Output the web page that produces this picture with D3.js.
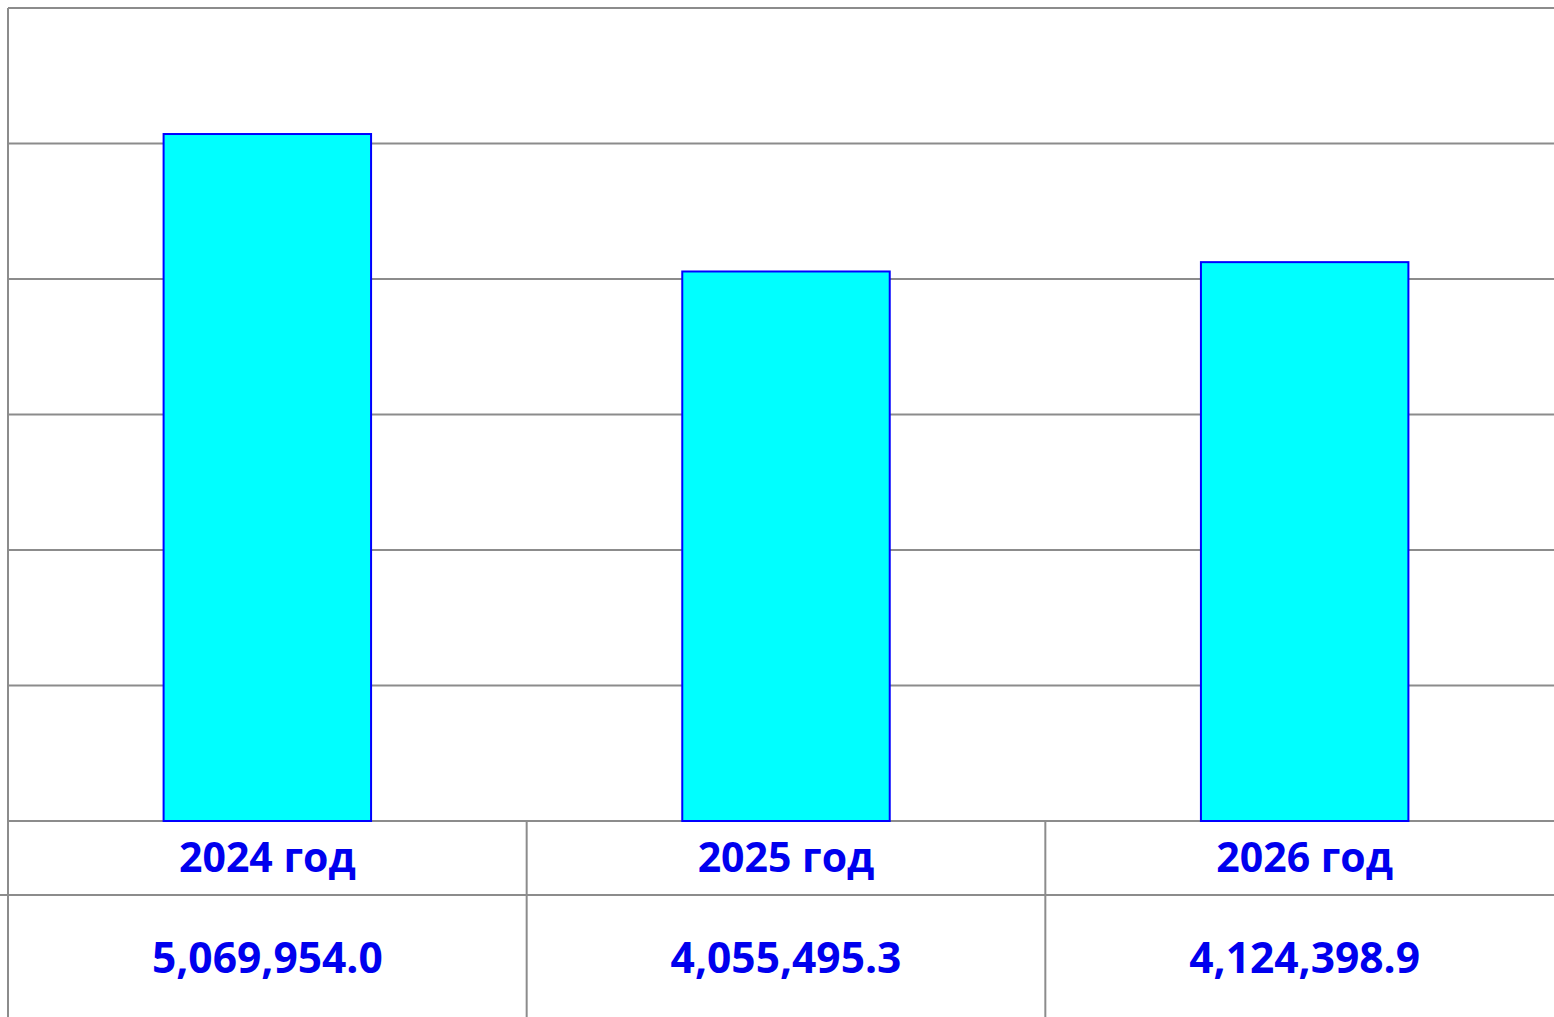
<!DOCTYPE html>
<html><head><meta charset="utf-8">
<script src="https://cdn.jsdelivr.net/npm/d3@7"></script>
<style>html,body{margin:0;padding:0;background:#fff;overflow:hidden}</style>
</head><body>
<svg id="c" width="1554" height="1017"></svg>
<script>
const categories = ["2024 год", "2025 год", "2026 год"];
const values = [5069954.0, 4055495.3, 4124398.9];
const valueLabels = ["5,069,954.0", "4,055,495.3", "4,124,398.9"];
const yTicks = [0, 1000000, 2000000, 3000000, 4000000, 5000000, 6000000];

(function () {
const svg = d3.select("#c");
const mLeft = 8, mRight = 1564, mTop = 8, mBottom = 821;
const row1 = 895, row2 = 1030;
const grid = "#8c8c8c";

const x = d3.scaleBand().domain(categories).range([mLeft, mRight]).paddingInner(0).paddingOuter(0);
const y = d3.scaleLinear().domain([0, 6000000]).range([mBottom, mTop]);

// gridlines
svg.append("g").selectAll("line").data(yTicks).join("line")
  .attr("x1", mLeft).attr("x2", mRight)
  .attr("y1", d => y(d)).attr("y2", d => y(d))
  .attr("stroke", grid).attr("stroke-width", 2);

// left axis line
svg.append("line").attr("x1", mLeft).attr("x2", mLeft).attr("y1", mTop).attr("y2", row2)
  .attr("stroke", grid).attr("stroke-width", 2);

// bars
const bw = x.bandwidth() * 0.4;
svg.append("g").selectAll("rect").data(values).join("rect")
  .attr("x", (d, i) => x(categories[i]) + (x.bandwidth() - bw) / 2)
  .attr("y", d => y(d))
  .attr("width", bw)
  .attr("height", d => mBottom - y(d))
  .attr("fill", "#00FFFF").attr("stroke", "#0000FF").attr("stroke-width", 2);

// table lines
svg.append("line").attr("x1", 0).attr("x2", mRight).attr("y1", row1).attr("y2", row1)
  .attr("stroke", grid).attr("stroke-width", 2);
svg.append("g").selectAll("line").data(categories.slice(1)).join("line")
  .attr("x1", d => x(d)).attr("x2", d => x(d))
  .attr("y1", mBottom).attr("y2", row2)
  .attr("stroke", grid).attr("stroke-width", 2);

const font = "'Open Sans', 'DejaVu Sans', sans-serif";
svg.append("g").selectAll("text").data(categories).join("text")
  .attr("x", d => x(d) + x.bandwidth() / 2)
  .attr("y", 856)
  .attr("text-anchor", "middle").attr("dominant-baseline", "central")
  .attr("font-family", font).attr("font-weight", "bold").attr("font-size", 41)
  .attr("fill", "#0000EE")
  .text(d => d);

svg.append("g").selectAll("text").data(valueLabels).join("text")
  .attr("x", (d, i) => x(categories[i]) + x.bandwidth() / 2)
  .attr("y", 956)
  .attr("text-anchor", "middle").attr("dominant-baseline", "central")
  .attr("font-family", font).attr("font-weight", "bold").attr("font-size", 42.5)
  .attr("fill", "#0000EE")
  .text(d => d);
})();
</script>
</body></html>
